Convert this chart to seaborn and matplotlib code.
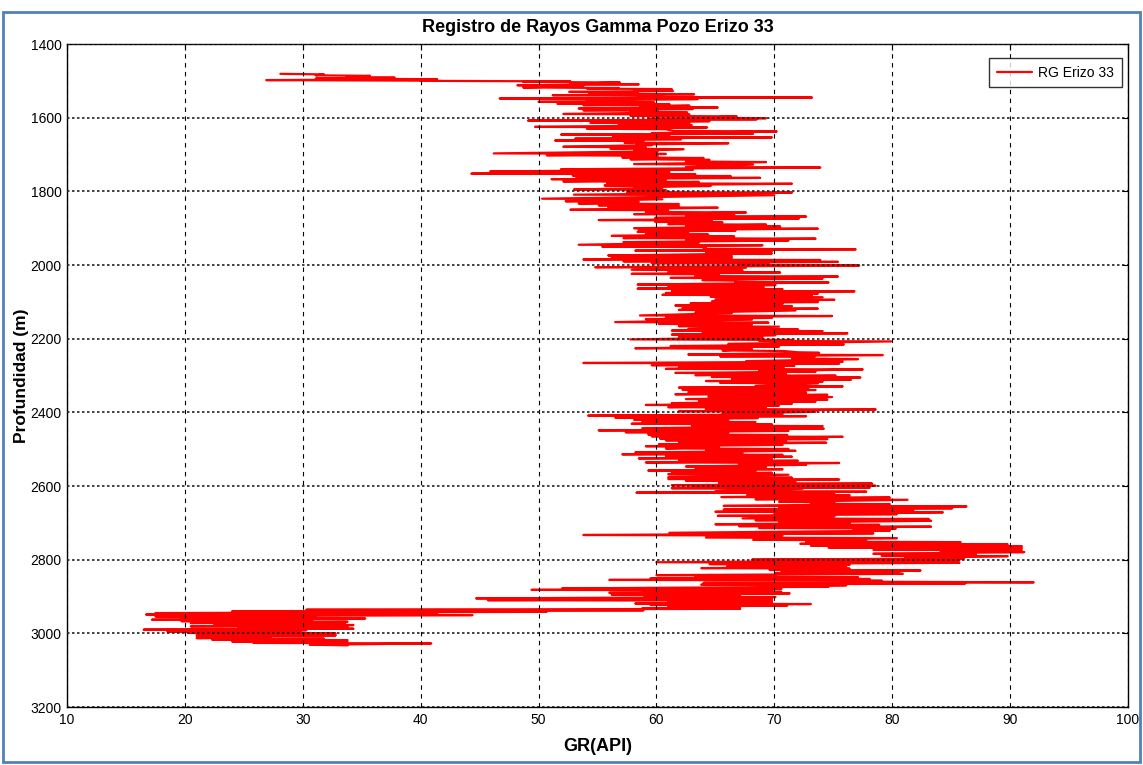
import numpy as np
import pandas as pd
import matplotlib
matplotlib.use("Agg")
import matplotlib.pyplot as plt
import seaborn as sns
from matplotlib.patches import Rectangle

# ---- Data (depth bands in m, GR min / max in API) ----
depth_a = [1481,1485,1490,1494,1498,1500,1503,1508,1512,1518,1521,1526,1530,1535,1539,1544,1548,1553,1557,1562,1566,1571,1575,1580,1584,1590,1595,1600,1603,1608,1614,1619,1625,1630,1636,1642,1646,1652,1657,1662,1668,1673,1679,1684,1690,1697,1702,1708,1713,1719,1726,1734,1740,1746,1752,1757,1762,1767,1773,1778,1784,1789]
low_a = [28.1,31.1,33.7,31.1,26.9,40.0,48.7,52.7,48.2,48.7,54.1,58.1,52.6,54.3,51.2,60.8,46.7,54.1,50.0,51.6,53.8,58.6,53.4,53.8,57.8,52.1,57.8,64.0,59.4,49.1,54.4,56.8,49.7,54.1,61.5,59.6,51.9,56.3,53.1,51.4,57.3,58.3,52.1,56.1,58.1,46.2,50.7,57.1,57.8,62.5,58.1,62.5,51.9,45.9,44.3,52.9,53.2,51.1,52.1,55.8,55.6,58.1]
high_a = [31.8,35.7,37.8,41.4,40.0,52.7,56.9,58.5,53.8,56.8,61.3,61.4,58.4,63.2,58.1,73.2,63.5,58.1,59.8,61.1,62.8,65.2,63.1,60.1,62.6,62.8,66.8,69.3,68.5,64.5,62.8,63.0,64.3,60.8,70.2,68.2,61.1,69.8,62.1,58.9,66.1,59.6,59.1,62.3,60.1,60.8,60.1,64.0,64.5,69.3,68.2,73.9,63.1,61.1,63.3,66.3,68.8,60.8,63.6,71.5,64.6,60.5]

depth_b = [1795,1802,1809,1820,1827,1833,1838,1843,1850,1856,1862,1867,1872,1878,1883,1889,1894,1900,1905,1910,1916,1921,1927,1932,1938,1945,1950,1956,1961,1967,1974,1979,1985,1990,1995]
low_b = [53.0,57.5,53.0,50.3,52.3,53.4,55.1,55.9,52.7,59.1,58.1,62.5,59.9,55.1,59.9,61.0,62.5,58.1,58.5,58.4,59.1,56.2,57.2,62.5,57.2,53.4,55.4,64.0,58.2,64.2,55.9,56.2,53.8,57.2,59.6]
high_b = [60.8,71.5,70.0,60.5,58.5,61.9,61.9,65.2,61.0,67.6,66.6,72.7,72.1,64.7,65.6,69.3,70.5,73.7,66.7,62.7,64.4,66.6,73.5,71.2,63.6,69.0,64.2,76.9,69.8,69.8,66.4,66.4,73.9,75.4,69.5]

depth_c = [2000,2006,2013,2019,2024,2030,2035,2041,2046,2053,2059,2064,2070,2076,2081,2086,2093,2099,2104,2110,2117,2122,2129,2137,2142,2147,2155,2160,2166,2173,2178,2184,2189,2195]
low_c = [67.0,54.8,57.9,61.0,57.9,63.3,61.2,63.9,66.7,58.4,61.0,58.4,61.3,60.8,60.5,64.6,65.0,64.7,62.9,61.6,62.2,61.9,63.3,58.6,60.8,59.1,56.5,60.2,61.9,62.7,61.3,63.9,61.3,61.9]
high_c = [77.2,67.6,67.3,70.5,65.3,75.4,74.1,66.7,74.6,70.1,69.1,70.7,76.8,73.7,73.2,74.1,75.1,73.7,70.7,71.5,73.7,71.8,66.4,74.9,69.8,68.1,69.5,68.1,70.4,72.0,74.1,76.2,70.1,69.0]

depth_d = [2202,2206,2214,2220,2226,2232,2237,2243,2248,2254,2261,2266,2272,2277,2282,2288,2293,2299,2304,2310,2315,2320,2328,2333,2338,2345,2351,2357,2364,2369,2375,2380,2386,2391,2397]
low_d = [57.8,68.7,66.1,61.2,58.2,65.6,72.0,62.7,65.4,71.5,67.6,53.8,59.6,61.9,60.8,68.7,61.6,63.3,64.7,66.4,64.2,65.4,68.4,61.9,62.2,62.7,61.6,64.4,62.5,63.6,61.3,59.1,61.0,64.2,61.9]
high_d = [71.5,79.9,75.9,70.4,68.1,70.8,73.8,79.2,73.4,77.1,75.8,75.5,71.7,70.8,77.5,73.5,71.0,75.2,77.3,76.5,74.1,73.7,75.8,72.9,73.5,72.7,74.5,74.9,74.5,73.5,71.5,70.4,69.3,78.6,73.5]

depth_e = [2404,2409,2414,2420,2425,2431,2436,2443,2449,2454,2460,2465,2471,2476,2481,2487,2492,2498,2503,2509,2514,2519,2525,2530,2536,2541,2547,2553,2558,2563,2568,2576,2581,2586,2592,2598]
low_e = [65.6,54.2,56.5,58.1,58.8,57.9,63.0,58.8,55.1,57.4,59.3,59.6,60.3,60.8,61.9,60.2,59.1,60.8,64.2,58.2,57.1,60.8,58.5,61.9,59.1,67.0,62.5,63.3,59.3,61.3,61.0,61.0,61.0,62.5,65.3,61.3]
high_e = [70.7,72.7,68.6,66.1,68.4,69.8,74.1,74.2,71.2,66.1,71.1,75.8,74.5,71.0,74.4,70.7,65.3,71.2,71.8,67.3,70.7,71.5,69.8,72.0,75.5,72.7,69.3,70.7,68.4,69.8,71.2,71.5,75.5,71.8,78.3,78.6]

depth_f = [2603,2606,2614,2618,2624,2630,2636,2643,2648,2654,2659,2664,2670,2675,2681,2688,2693,2699,2704,2709,2714,2720,2727,2733,2740,2746,2751,2757,2762,2767,2773,2778,2784,2789,2795]
low_f = [63.0,61.3,65.0,58.3,67.7,65.5,68.4,70.4,73.1,65.7,70.4,65.7,65.0,70.0,65.2,67.3,68.4,70.4,65.0,67.0,68.7,76.7,61.1,53.8,64.2,68.2,72.7,72.2,73.1,74.6,78.4,84.1,78.4,79.1,81.1]
high_f = [78.1,72.4,77.8,75.1,76.4,79.8,81.3,75.1,79.8,86.3,85.1,81.8,84.3,80.4,75.1,83.1,83.3,76.4,78.9,83.3,80.3,79.8,78.4,70.7,80.4,77.8,85.8,89.8,91.0,91.0,91.0,91.2,87.1,89.8,86.1]

depth_g = [2800,2807,2812,2818,2823,2828,2832,2837,2842,2846,2851,2855,2860,2863,2868,2872,2878,2882,2886,2890,2895,2900,2905,2910,2914,2919,2923,2928,2932,2936,2940,2945,2949,2954,2958,2963,2967,2972,2976,2981,2986,2990,2995,2999,3004,3008,3013,3017,3022,3026,3031]
low_g = [68.1,60.0,64.5,66.0,63.8,69.6,70.6,70.1,60.0,63.3,59.5,56.0,79.1,64.0,63.8,70.6,52.0,49.4,58.8,56.0,56.2,59.0,44.7,45.7,61.0,58.2,59.5,61.0,58.8,30.3,24.0,17.5,16.7,17.5,19.7,17.2,19.7,20.5,22.5,20.5,24.5,16.5,18.5,20.3,21.0,21.0,21.0,22.3,24.0,25.8,30.6]
high_g = [85.7,85.7,76.4,76.1,76.4,82.4,80.6,80.9,70.1,77.1,78.1,79.1,92.0,86.2,76.1,74.6,70.6,69.8,70.6,71.3,67.1,70.1,69.8,69.8,69.8,73.1,71.1,67.1,67.1,58.9,50.7,41.4,44.4,31.1,35.3,30.8,33.8,33.6,34.3,33.8,34.3,30.3,29.8,32.8,32.8,27.3,31.8,33.8,33.8,40.9,33.8]

series_label = "RG Erizo 33"
title = "Registro de Rayos Gamma Pozo Erizo 33"
x_ticks = [10, 20, 30, 40, 50, 60, 70, 80, 90, 100]
y_ticks = [1400, 1600, 1800, 2000, 2200, 2400, 2600, 2800, 3000, 3200]

# ---- Build the log samples (each band: low reading then high reading) ----
depths, grs = [], []
for dl, lo, hi in [(depth_a, low_a, high_a), (depth_b, low_b, high_b),
                   (depth_c, low_c, high_c), (depth_d, low_d, high_d),
                   (depth_e, low_e, high_e), (depth_f, low_f, high_f),
                   (depth_g, low_g, high_g)]:
    for d, l, h in zip(dl, lo, hi):
        depths += [d, d + 1.5]
        grs += [l, h]
df = pd.DataFrame({"Depth": depths, "GR": grs})

sns.set_style("white")
fam = ["Liberation Sans", "DejaVu Sans"]
plt.rcParams["font.family"] = fam
plt.rcParams["text.color"] = "black"
plt.rcParams["axes.labelcolor"] = "black"

fig = plt.figure(figsize=(11.43, 7.65), dpi=100)
ax = fig.add_axes([67/1143, 1 - 707/765, (1128-67)/1143, (707-44)/765])

sns.lineplot(data=df, x="GR", y="Depth", sort=False, estimator=None,
             color="#ff0000", lw=1.6, label=series_label, ax=ax)

ax.set_xlim(10, 100)
ax.set_ylim(3200, 1400)
ax.set_xticks(x_ticks)
ax.set_yticks(y_ticks)
ax.tick_params(axis="both", direction="in", length=4, labelsize=10,
               top=True, right=True, pad=4, colors="black")

ax.set_axisbelow(False)
ax.grid(axis="x", color="black", linestyle=(0, (4, 4)), lw=0.8)
ax.grid(axis="y", color="#222222", linestyle=(0, (1.5, 1.5)), lw=1.2)
for s in ax.spines.values():
    s.set_color("black")
    s.set_linewidth(1.0)

ax.set_xlabel("GR(API)", fontsize=13, fontweight="bold", color="black")
ax.xaxis.set_label_coords(0.5, -(738 - 707) / 663)
ax.set_ylabel("Profundidad (m)", fontsize=12.5, fontweight="bold", color="black")
ax.yaxis.set_label_coords(-(67 - 29) / 1061, 0.5)
ax.set_title(title, fontsize=13, fontweight="bold", color="black", pad=9)

leg = ax.legend(loc="upper right", frameon=True, fancybox=False,
                edgecolor="black", fontsize=10, handlelength=2.5,
                bbox_to_anchor=(1 - 6/1061, 1 - 14/663), borderaxespad=0,
                borderpad=0.55, handletextpad=0.5)
leg.get_frame().set_linewidth(1.0)
for t in leg.get_texts():
    t.set_color("black")

# blue outer frame
fig.patches.append(Rectangle((0.003, 0.004), 0.994, 0.98, transform=fig.transFigure,
                             fill=False, edgecolor="#4f81bd", lw=2.0))

fig.savefig("out.png", dpi=100)
